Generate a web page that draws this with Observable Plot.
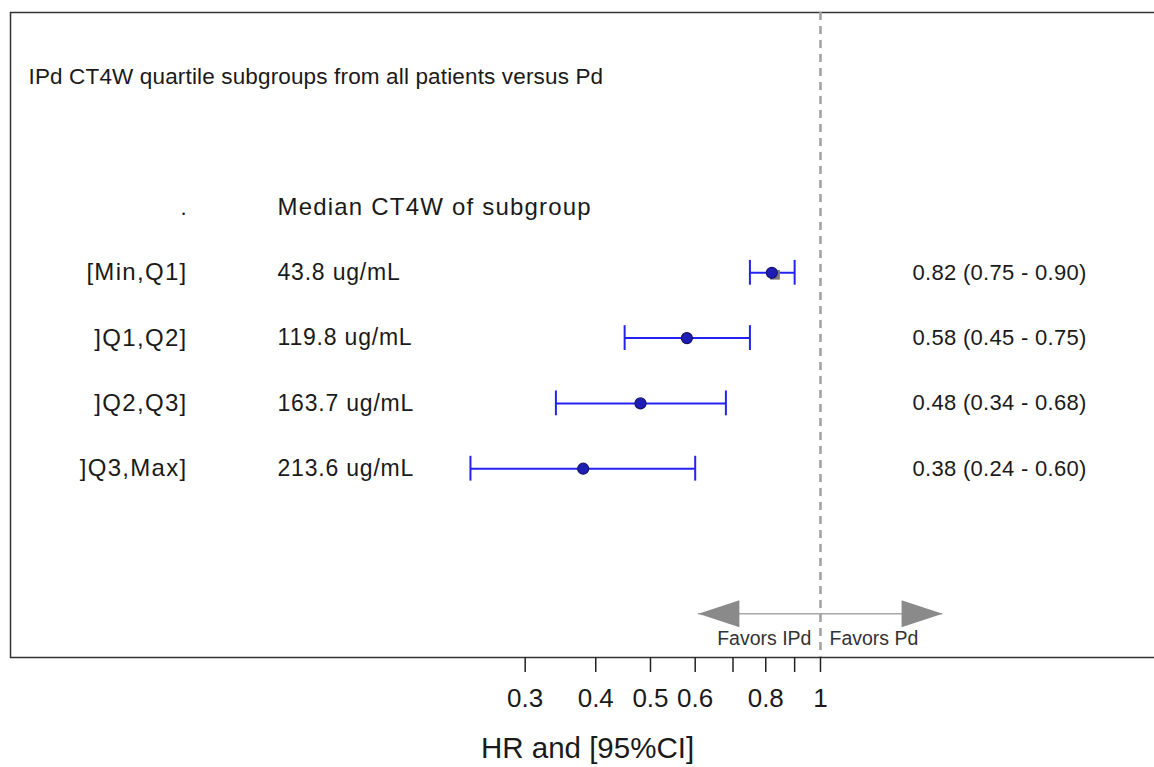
<!DOCTYPE html>
<html>
<head>
<meta charset="utf-8">
<script src="https://cdn.jsdelivr.net/npm/d3@7"></script>
<script src="https://cdn.jsdelivr.net/npm/@observablehq/plot@0.6"></script>
<style>
  html, body { margin: 0; padding: 0; background: #fff; overflow: hidden; }
  #chart svg { display: block; }
</style>
</head>
<body>
<div id="chart"></div>
<script>
// ---- data ----
const title = "IPd CT4W quartile subgroups from all patients versus Pd";
const headerLabel = ".";
const headerMedian = "Median CT4W of subgroup";
const subgroups = ["[Min,Q1]", "]Q1,Q2]", "]Q2,Q3]", "]Q3,Max]"];
const medians = ["43.8 ug/mL", "119.8 ug/mL", "163.7 ug/mL", "213.6 ug/mL"];
const hr = [0.82, 0.58, 0.48, 0.38];
const lower = [0.75, 0.45, 0.34, 0.24];
const upper = [0.90, 0.75, 0.68, 0.60];
const tickValues = [0.3, 0.4, 0.5, 0.6, 0.7, 0.8, 0.9, 1];
const tickLabels = ["0.3", "0.4", "0.5", "0.6", "", "0.8", "", "1"];
const favorsLeft = "Favors IPd";
const favorsRight = "Favors Pd";
const xTitle = "HR and [95%CI]";
const arrowEnds = [1 / 1.645, 1.645];

// ---- table ----
const rows = subgroups.map((s, i) => ({
  row: i + 2,
  label: s,
  median: medians[i],
  hr: hr[i],
  lo: lower[i],
  hi: upper[i],
  txt: `${hr[i].toFixed(2)} (${lower[i].toFixed(2)} - ${upper[i].toFixed(2)})`
}));
const tickTable = tickValues.map((v, i) => ({v, label: tickLabels[i]})).filter(d => d.label !== "");

const FONT = "'Liberation Sans', Arial, Helvetica, sans-serif";
const ink = "#1a1a1a";
const blue = "#2323f0";
const capHalf = 0.19;
const arrowRow = 7.22;
const favorsRow = 7.6;

const leftTri = {draw(ctx) { ctx.moveTo(0, 0); ctx.lineTo(41, -13.5); ctx.lineTo(41, 13.5); ctx.closePath(); }};
const rightTri = {draw(ctx) { ctx.moveTo(0, 0); ctx.lineTo(-41, -13.5); ctx.lineTo(-41, 13.5); ctx.closePath(); }};

const chart = Plot.plot({
  width: 1154,
  height: 767,
  marginLeft: 10,
  marginRight: -10,
  marginTop: 12,
  marginBottom: 110,
  style: {fontFamily: FONT, color: ink, background: "#fff"},
  x: {type: "log", domain: [0.03679, 4.066]},
  y: {type: "linear", domain: [-1.986, 7.891], reverse: true, axis: null},
  marks: [
    Plot.frame({stroke: "#333", strokeWidth: 1.5}),
    Plot.ruleX([1], {stroke: "#a0a0a0", strokeWidth: 2.5, strokeDasharray: "8,6"}),
    // title
    Plot.text([title], {frameAnchor: "left", y: () => -1, text: d => d, dx: 18, fontSize: 22.5, fill: ink}),
    // header
    Plot.text([headerLabel], {frameAnchor: "left", y: () => 1, text: d => d, dx: 176, textAnchor: "end", fontSize: 22, fill: ink}),
    Plot.text([headerMedian], {frameAnchor: "left", y: () => 1, text: d => d, dx: 267, fontSize: 24, fill: ink}),
    // row labels
    Plot.text(rows, {frameAnchor: "left", y: "row", text: "label", dx: 177, textAnchor: "end", fontSize: 24, fill: ink}),
    Plot.text(rows, {frameAnchor: "left", y: "row", text: "median", dx: 267, fontSize: 23, fill: ink}),
    Plot.text(rows, {frameAnchor: "left", y: "row", text: "txt", dx: 902, fontSize: 22, fill: ink}),
    // CIs
    Plot.ruleY(rows, {y: "row", x1: "lo", x2: "hi", stroke: blue, strokeWidth: 2}),
    Plot.ruleX(rows, {x: "lo", y1: d => d.row - capHalf, y2: d => d.row + capHalf, stroke: blue, strokeWidth: 2}),
    Plot.ruleX(rows, {x: "hi", y1: d => d.row - capHalf, y2: d => d.row + capHalf, stroke: blue, strokeWidth: 2}),
    Plot.dot(rows.slice(0, 1), {x: d => d.hr * 1.013, y: d => d.row + 0.03, symbol: "square", r: 5.5, fill: "#7a7a7a", stroke: "none"}),
    Plot.dot(rows, {x: "hr", y: "row", r: 5.5, fill: "#1e1eb4", stroke: "#14146e", strokeWidth: 1.2}),
    // favors arrows
    Plot.ruleY([arrowRow], {x1: arrowEnds[0], x2: arrowEnds[1], stroke: "#a8a8a8", strokeWidth: 1.5}),
    Plot.dot([arrowEnds[0]], {x: d => d, y: () => arrowRow, symbol: leftTri, fill: "#8a8a8a", stroke: "none"}),
    Plot.dot([arrowEnds[1]], {x: d => d, y: () => arrowRow, symbol: rightTri, fill: "#8a8a8a", stroke: "none"}),
    Plot.text([favorsLeft], {x: () => 1, y: () => favorsRow, text: d => d, dx: -9, textAnchor: "end", fontSize: 19.5, fill: "#333"}),
    Plot.text([favorsRight], {x: () => 1, y: () => favorsRow, text: d => d, dx: 9, textAnchor: "start", fontSize: 19.5, fill: "#333"}),
    // x axis: tick marks from the scale, labels drawn as text at the same scale positions
    Plot.axisX({
      ticks: tickValues,
      tickFormat: () => "",
      tickSize: 15,
      stroke: "#222",
      strokeWidth: 1.5,
      label: null
    }),
    Plot.text(tickTable, {x: "v", text: "label", frameAnchor: "bottom", lineAnchor: "middle", dy: 41, fontSize: 26, fill: ink}),
    Plot.text([xTitle], {frameAnchor: "bottom", lineAnchor: "middle", text: d => d, dy: 91, fontSize: 29.5, fill: ink})
  ]
});

// letter spacing tweaks to match the reference's wide text rendering
const spacing = new Map();
subgroups.forEach(s => spacing.set(s, "1.3px"));
medians.forEach(s => spacing.set(s, "0.8px"));
rows.forEach(r => spacing.set(r.txt, "0.3px"));
spacing.set(headerMedian, "1.2px");
spacing.set(title, "0.15px");
d3.select(chart).selectAll("text").each(function () {
  const ls = spacing.get(this.textContent);
  if (ls) this.setAttribute("letter-spacing", ls);
});

document.getElementById("chart").appendChild(chart);
</script>
</body>
</html>
